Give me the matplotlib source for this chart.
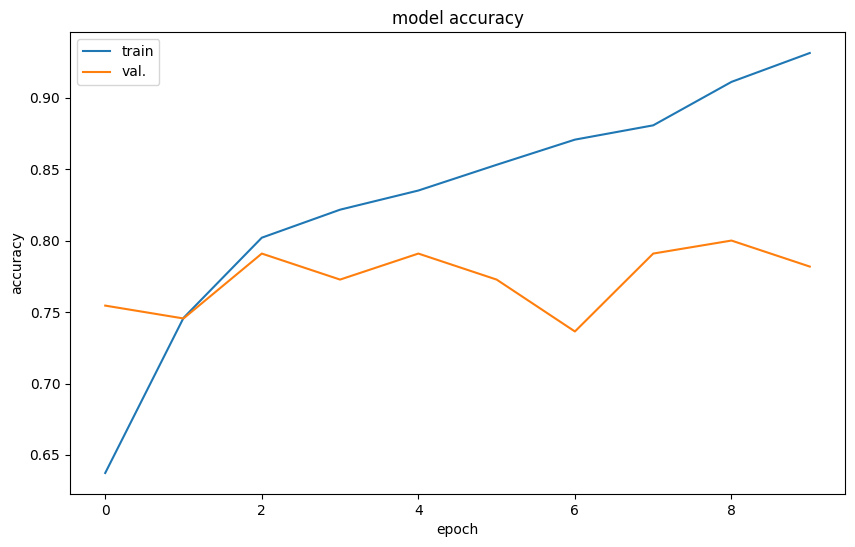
import matplotlib
matplotlib.use("Agg")
import matplotlib.pyplot as plt

# datos
epochs = list(range(10))
train_acc = [0.6374, 0.7459, 0.8020, 0.8216, 0.8350, 0.8530, 0.8706, 0.8806, 0.9110, 0.9312]
val_acc = [0.7545, 0.7455, 0.7909, 0.7727, 0.7909, 0.7727, 0.7364, 0.7909, 0.8000, 0.7818]

fig = plt.figure(figsize=(8.55, 5.47), dpi=100)
ax = fig.add_axes([70/855, 1-494/547, (845-70)/855, (494-32)/547])
ax.plot(epochs, train_acc)
ax.plot(epochs, val_acc)
ax.set_title('model accuracy')
ax.set_ylabel('accuracy')
ax.set_xlabel('epoch')
ax.legend(['train', 'val.'], loc='upper left')
fig.savefig('out.png', dpi=100)
